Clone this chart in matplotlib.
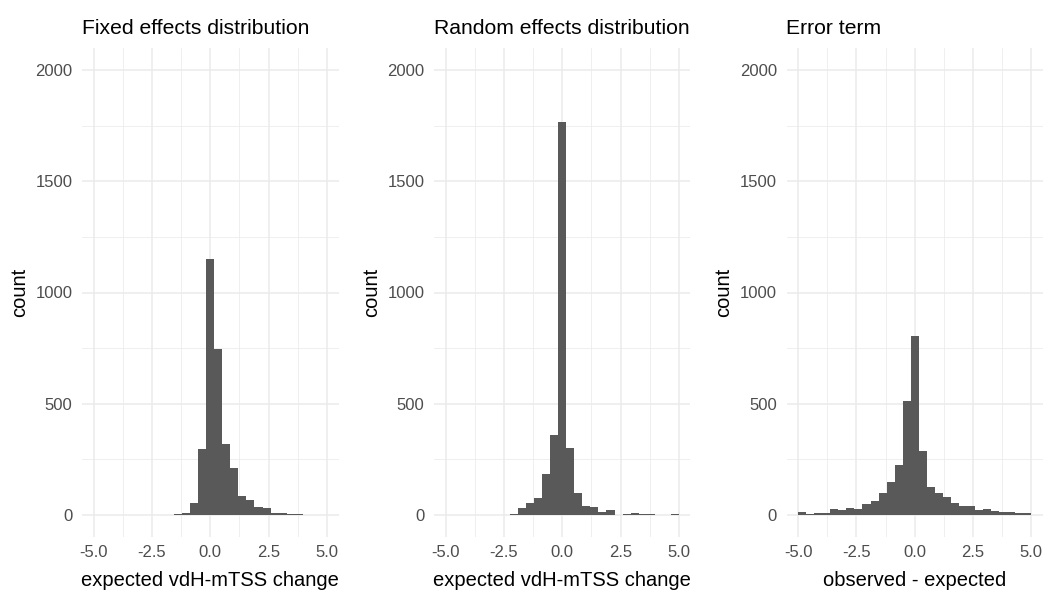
import numpy as np
import matplotlib
matplotlib.use("Agg")
import matplotlib.pyplot as plt
from matplotlib.ticker import MultipleLocator

plt.rcParams['font.family'] = ['Liberation Sans', 'DejaVu Sans']

# Bin edges (29 bins spanning -5..5, as in ggplot bins=30 with fixed limits)
bin_edges = np.linspace(-5, 5, 30)

titles = ["Fixed effects distribution", "Random effects distribution", "Error term"]
xlabels = ["expected vdH-mTSS change", "expected vdH-mTSS change", "observed - expected"]

# counts per bin, k = -14 .. 14
fixed_counts = [0, 0, 0, 0, 0, 0, 0, 0, 1, 0, 2, 7, 54, 296, 1150,
                748, 318, 212, 84, 65, 33, 30, 9, 6, 2, 5, 0, 0, 1]
random_counts = [0, 1, 0, 0, 1, 0, 0, 1, 4, 29, 53, 75, 183, 360, 1766,
                 302, 98, 39, 35, 14, 20, 1, 5, 6, 2, 2, 1, 1, 2]
error_counts = [12, 5, 8, 10, 26, 21, 32, 26, 48, 63, 96, 149, 222, 512, 806,
                285, 126, 99, 81, 51, 41, 38, 23, 24, 18, 12, 14, 10, 6]

all_counts = [fixed_counts, random_counts, error_counts]

x_ticks = [-5.0, -2.5, 0.0, 2.5, 5.0]
y_ticks = [0, 500, 1000, 1500, 2000]

W, H = 1050, 590
fig = plt.figure(figsize=(W / 100, H / 100), dpi=100)
fig.patch.set_facecolor('white')

panel_left = [82, 434, 786.5]
panel_width = 256.5
top_px, bot_px = 48, 537

grid_col = '#EBEBEB'
centers = (bin_edges[:-1] + bin_edges[1:]) / 2
for i in range(3):
    ax = fig.add_axes([panel_left[i] / W, 1 - bot_px / H,
                       panel_width / W, (bot_px - top_px) / H])
    ax.set_xlim(-5.5, 5.5)
    ax.set_ylim(-100, 2100)
    ax.hist(centers, bins=bin_edges, weights=all_counts[i],
            color='#595959', edgecolor='none', zorder=3)
    ax.set_xticks(x_ticks)
    ax.set_xticklabels([f"{v:.1f}" for v in x_ticks])
    ax.set_yticks(y_ticks)
    ax.set_yticklabels([str(v) for v in y_ticks])
    ax.xaxis.set_minor_locator(MultipleLocator(1.25))
    ax.yaxis.set_minor_locator(MultipleLocator(250))
    ax.grid(which='major', color=grid_col, linewidth=1.1, zorder=0)
    ax.grid(which='minor', color=grid_col, linewidth=0.55, zorder=0)
    ax.set_axisbelow(True)
    for s in ax.spines.values():
        s.set_visible(False)
    ax.tick_params(which='both', length=0, labelsize=12, labelcolor='#4D4D4D')
    ax.tick_params(axis='x', pad=5.5)
    ax.tick_params(axis='y', pad=7)
    ax.set_xlabel(xlabels[i], fontsize=14.5, color='black', labelpad=8)
    ax.set_ylabel('count', fontsize=14.5, color='black', labelpad=4.5)
    ax.set_title(titles[i], loc='left', fontsize=15.2, color='black', pad=10)

fig.savefig('out.png', dpi=100, facecolor='white')
